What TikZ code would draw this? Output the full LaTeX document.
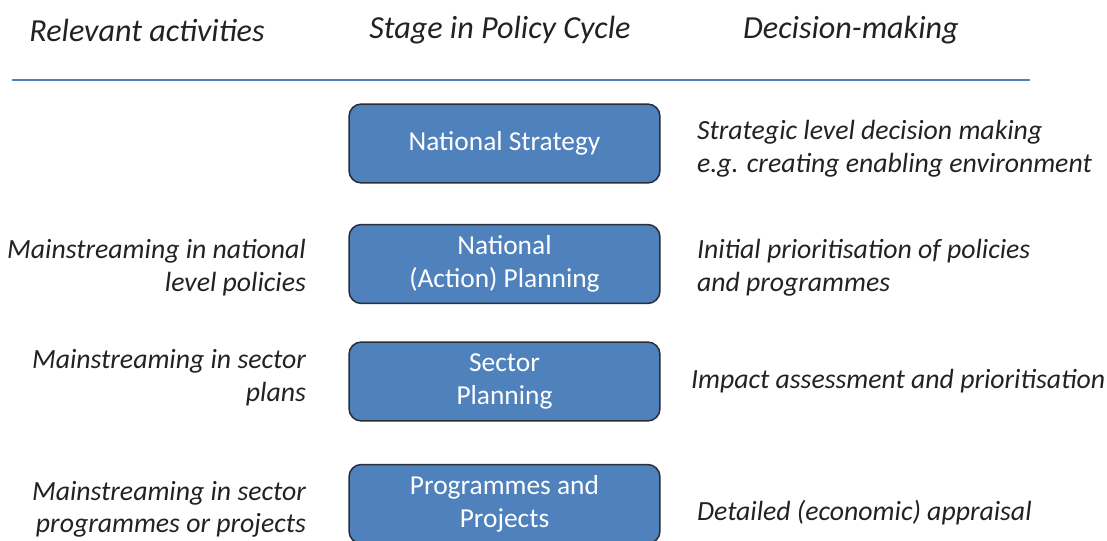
\documentclass[tikz,border=0pt]{standalone}
\usepackage{fontspec}
\setmainfont{Carlito}
\usetikzlibrary{positioning}

\definecolor{stageblue}{RGB}{79,129,189}
\definecolor{stageedge}{RGB}{38,46,58}
\definecolor{textgray}{RGB}{34,34,34}

\begin{document}
\begin{tikzpicture}[x=0.02cm, y=-0.02cm,
    every node/.style={font=\fontsize{15.8}{18.7}\selectfont\itshape, text=textgray, inner sep=0pt},
    head/.style={font=\fontsize{18.3}{20}\selectfont\itshape},
    stage/.style={draw=stageedge, line width=0.85pt, fill=stageblue, rounded corners=7pt,
                  minimum width=6.22cm, minimum height=1.58cm, align=center,
                  text=white, font=\fontsize{15.6}{18.7}\selectfont\upshape},
    activity/.style={align=right},
    decision/.style={align=left}]
  \useasboundingbox (0,0) rectangle (1107,541);

  % column headings and rule
  \node[head] (h1) at (147,30) {Relevant activities};
  \node[head] (h2) at (500,30) {Stage in Policy Cycle};
  \node[head] (h3) at (851,30) {Decision-making};
  \draw[stageblue, line width=1.2pt] (12,80) -- (1030,80);

  % stages
  \node[stage] (ns)  at (504.5,143.5) {National Strategy};
  \node[stage] (nap) at (504.5,264)   {National\\(Action) Planning};
  \node[stage] (sp)  at (504.5,381.5) {Sector\\Planning};
  \node[stage] (pp)  at (504.5,504)   {Programmes and\\Projects};

  % activities
  \node[activity, left=0.84cm of nap, yshift=-2pt] (a1) {Mainstreaming in national\\level policies};
  \node[activity, left=0.84cm of sp,  yshift=2pt]  (a2) {Mainstreaming in sector\\plans};
  \node[activity, left=0.84cm of pp,  yshift=-3pt] (a3) {Mainstreaming in sector\\programmes or projects};

  % decisions
  \node[decision, right=0.72cm of ns,  yshift=-3pt] (d1) {Strategic level decision making\\e.g. creating enabling environment};
  \node[decision, right=0.72cm of nap, yshift=-2pt] (d2) {Initial prioritisation of policies\\and programmes};
  \node[decision, right=0.6cm of sp]                (d3) {Impact assessment and prioritisation};
  \node[decision, right=0.72cm of pp, yshift=-5pt] (d4) {Detailed (economic) appraisal};
\end{tikzpicture}
\end{document}
